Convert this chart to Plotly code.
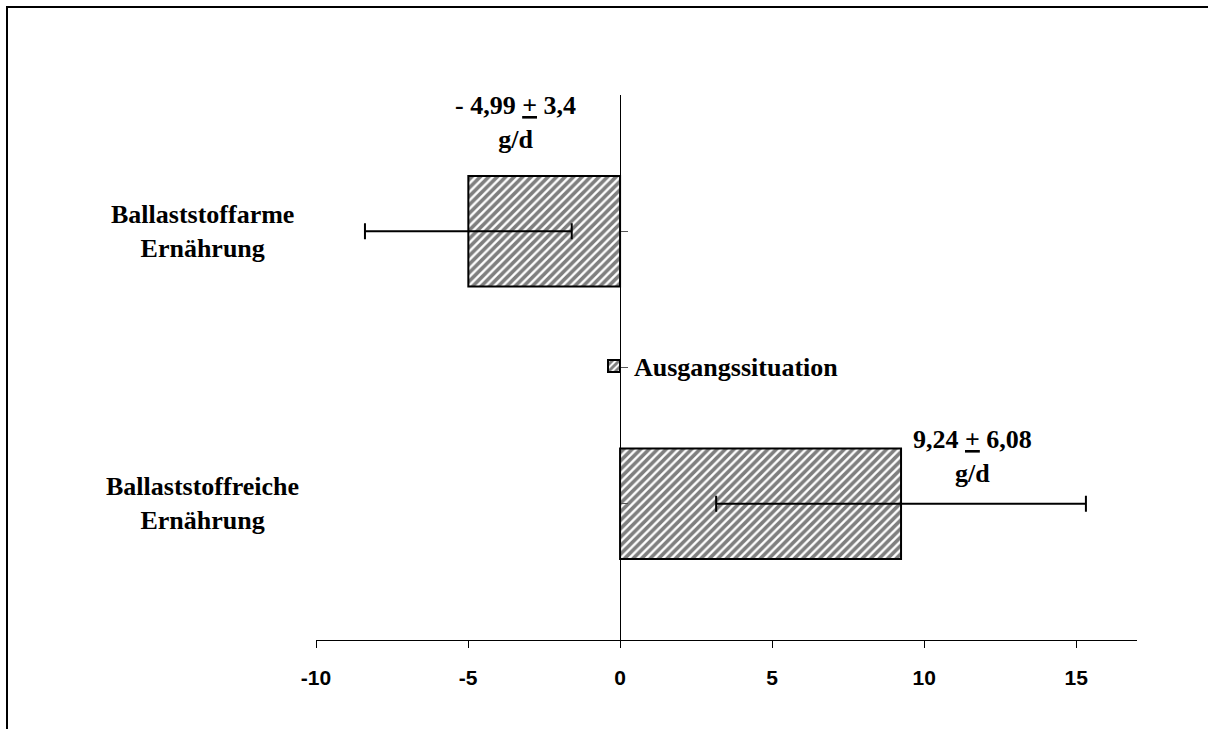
import plotly.graph_objects as go

categories = ["Ballaststoffarme<br>Ernährung", "Ballaststoffreiche<br>Ernährung"]
values = [-4.99, 9.24]
errors = [3.4, 6.08]
value_labels = ["- 4,99 <u>+</u> 3,4<br>g/d", "9,24 <u>+</u> 6,08<br>g/d"]
series_name = "Ausgangssituation"
x_ticks = [-10, -5, 0, 5, 10, 15]
x_range = [-10, 17]

serif = "Liberation Serif, Times New Roman, serif"
sans = "Liberation Sans, Arial, sans-serif"

W, H = 1208, 729
ml, mr, mt, mb = 316, 71, 95, 89
pw, ph = W - ml - mr, H - mt - mb

def px_x(p):
    return (p - ml) / pw

def px_y(p):
    return (H - mb - p) / ph

fig = go.Figure()
fig.add_trace(go.Bar(
    y=categories, x=values, orientation="h", name="<b>" + series_name + "</b>",
    width=0.405,
    marker=dict(color="white", line=dict(color="black", width=2),
                pattern=dict(shape="/", fgcolor="black", bgcolor="white", size=6, solidity=0.6)),
    error_x=dict(type="data", array=errors, visible=True, color="black", thickness=2, width=8),
    showlegend=True,
))

annotations = []
label_pos = [(-3.45, -0.40), (11.6, 0.825)]
for (lx, ly), txt in zip(label_pos, value_labels):
    annotations.append(dict(x=lx, y=ly, xref="x", yref="y", text="<b>" + txt + "</b>",
                            showarrow=False, font=dict(family=serif, size=26, color="black"),
                            align="center", xanchor="center", yanchor="middle"))
for i, c in enumerate(categories):
    annotations.append(dict(x=px_x(202), y=i, xref="paper", yref="y", text="<b>" + c + "</b>",
                            showarrow=False, font=dict(family=serif, size=26, color="black"),
                            align="center", xanchor="center", yanchor="middle"))

fig.update_layout(
    width=W, height=H,
    margin=dict(l=ml, r=mr, t=mt, b=mb),
    paper_bgcolor="white", plot_bgcolor="white",
    xaxis=dict(range=x_range, tickvals=x_ticks, ticktext=[str(t) for t in x_ticks],
               showgrid=False, zeroline=False, showline=True, linecolor="black", linewidth=1,
               ticks="outside", ticklen=7, tickcolor="black", tickwidth=1,
               tickfont=dict(family=sans, size=21, color="black", weight="bold"),
               ticklabelstandoff=12),
    yaxis=dict(range=[1.5, -0.5], type="category", anchor="free",
               position=(0 - x_range[0]) / (x_range[1] - x_range[0]),
               showgrid=False, zeroline=False, showline=True, linecolor="black", linewidth=1,
               ticks="inside", ticklen=7, tickcolor="#555", tickwidth=1,
               tickmode="array", tickvals=[-0.5, 0, 0.5, 1], showticklabels=False),
    legend=dict(x=px_x(594), y=px_y(366), xanchor="left", yanchor="middle",
                bgcolor="rgba(0,0,0,0)", borderwidth=0,
                font=dict(family=serif, size=26, color="black")),
    annotations=annotations,
    shapes=[dict(type="rect", xref="paper", yref="paper",
                 x0=px_x(7), x1=px_x(W + 10), y0=px_y(H + 10), y1=px_y(7),
                 line=dict(color="black", width=2), fillcolor="rgba(0,0,0,0)", layer="below")],
)

fig.write_html("out.html")
